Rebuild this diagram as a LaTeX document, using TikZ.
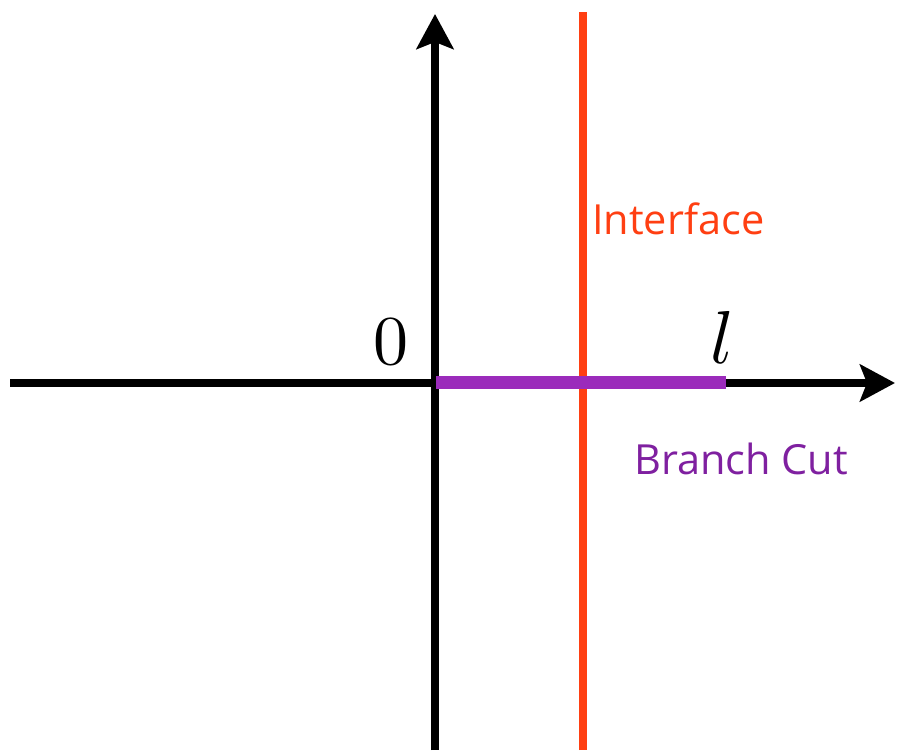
\documentclass[tikz,border=0pt]{standalone}
\usepackage{fontspec}
\newfontfamily\labelfont{Open Sans}
\usetikzlibrary{arrows.meta}
\definecolor{ifred}{HTML}{FF3F12}
\definecolor{cutpurple}{HTML}{9B2BBB}
\definecolor{cuttext}{HTML}{7F20A0}
\tikzset{
  axis/.style={line width=8pt, -{Stealth[length=35pt,width=37pt,inset=7pt]}},
  iface/.style={line width=8pt, ifred},
  cut/.style={line width=13pt, cutpurple},
  sanslabel/.style={font=\labelfont\fontsize{41.5}{44}\selectfont, inner sep=0pt},
}
\begin{document}
\begin{tikzpicture}[x=1pt,y=1pt]
\useasboundingbox (0,0) rectangle (897,750);
\coordinate (xl) at (10,367);
\coordinate (xr) at (895,367);
\coordinate (yb) at (435,0);
\coordinate (yt) at (435,736);
\coordinate (rb) at (582.5,0);
\coordinate (rt) at (582.5,738);
\coordinate (c0) at (436,367.5);
\coordinate (cl) at (726,367.5);
\draw[iface] (rb) -- (rt);
\draw[axis] (xl) -- (xr);
\draw[axis] (yb) -- (yt);
\draw[cut] (c0) -- (cl);
\node[inner sep=0pt] (zero) at (391,408) {\scalebox{7}{$0$}};
\node[inner sep=0pt] (ell) at (722,413) {\scalebox{7.5}{$l$}};
\node[sanslabel, text=ifred, anchor=base west] (iface) at (592,515) {Interface};
\node[sanslabel, text=cuttext, anchor=base west] (bcut) at (634,275) {Branch Cut};
\end{tikzpicture}
\end{document}
